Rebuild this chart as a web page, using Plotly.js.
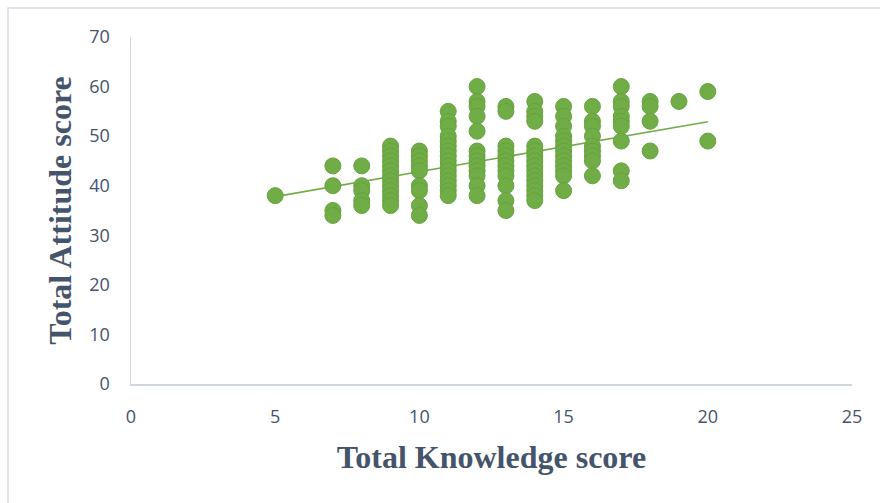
<!DOCTYPE html>
<html>
<head>
<meta charset="utf-8">
<script src="https://cdn.plot.ly/plotly-3.0.1.min.js"></script>
<style>html,body{margin:0;padding:0;background:#fff;}#chart{width:880px;height:503px;}</style>
</head>
<body>
<div id="chart"></div>
<script>
// Knowledge score -> attitude scores observed at that knowledge score
const knowledge5 = [38];
const knowledge7 = [44, 40, 35, 34];
const knowledge8 = [44, 40, 39, 37, 36];
const knowledge9 = [48, 47, 46, 45, 44, 43, 42, 41, 40, 39, 38, 37, 36];
const knowledge10 = [47, 46, 45, 44, 43, 40, 39, 36, 34];
const knowledge11 = [55, 53, 52, 50, 49, 48, 47, 46, 45, 44, 43, 42, 41, 40, 39, 38];
const knowledge12 = [60, 57, 56, 54, 51, 47, 46, 45, 44, 43, 42, 40, 38];
const knowledge13 = [56, 55, 48, 47, 46, 45, 44, 43, 42, 40, 37, 35];
const knowledge14 = [57, 55, 54, 53, 48, 47, 46, 45, 44, 43, 42, 41, 40, 39, 38, 37];
const knowledge15 = [56, 54, 52, 50, 49, 48, 47, 46, 45, 44, 43, 42, 39];
const knowledge16 = [56, 53, 52, 50, 48, 47, 46, 45, 42];
const knowledge17 = [60, 57, 56, 54, 53, 52, 49, 43, 41];
const knowledge18 = [57, 56, 53, 47];
const knowledge19 = [57];
const knowledge20 = [59, 49];

const knowledgeLevels = [5, 7, 8, 9, 10, 11, 12, 13, 14, 15, 16, 17, 18, 19, 20];
const attitudeGroups = [knowledge5, knowledge7, knowledge8, knowledge9, knowledge10, knowledge11,
  knowledge12, knowledge13, knowledge14, knowledge15, knowledge16, knowledge17, knowledge18,
  knowledge19, knowledge20];

// Linear trendline endpoints
const trendX = [5, 20];
const trendY = [37.8, 52.9];

const xTickVals = [0, 5, 10, 15, 20, 25];
const yTickVals = [0, 10, 20, 30, 40, 50, 60, 70];

const xs = [], ys = [];
knowledgeLevels.forEach((k, i) => {
  attitudeGroups[i].forEach(v => { xs.push(k); ys.push(v); });
});

const green = '#70AD47';
const textColor = '#44546A';

const M = {l: 131, r: 28, t: 37, b: 119};
const W = 880, H = 503;
const pw = W - M.l - M.r, ph = H - M.t - M.b;

const traces = [
  {
    x: trendX, y: trendY, type: 'scatter', mode: 'lines',
    line: {color: green, width: 1.6}, hoverinfo: 'skip', showlegend: false
  },
  {
    x: xs, y: ys, type: 'scatter', mode: 'markers',
    marker: {color: green, size: 16, line: {color: '#66A33F', width: 1}},
    showlegend: false
  }
];

const layout = {
  width: W, height: H,
  margin: M,
  paper_bgcolor: '#fff', plot_bgcolor: '#fff',
  showlegend: false,
  xaxis: {
    range: [0, 25], tickvals: xTickVals, showgrid: false, zeroline: false,
    showline: true, linecolor: '#D0D7E2', linewidth: 1.5,
    ticks: 'outside', ticklen: 16, tickcolor: 'rgba(0,0,0,0)',
    tickfont: {family: 'Open Sans, sans-serif', size: 18, color: textColor},
    title: {text: 'Total Knowledge score', standoff: 18,
      font: {family: 'Liberation Serif, Times New Roman, serif', size: 32, color: textColor, weight: 'bold'}}
  },
  yaxis: {
    range: [0, 70], tickvals: yTickVals, showgrid: false, zeroline: false,
    showline: true, linecolor: '#D0D7E2', linewidth: 1.5,
    ticks: 'outside', ticklen: 16, tickcolor: 'rgba(0,0,0,0)',
    tickfont: {family: 'Open Sans, sans-serif', size: 18, color: textColor},
    title: {text: 'Total Attitude score', standoff: 8,
      font: {family: 'Liberation Serif, Times New Roman, serif', size: 32, color: textColor, weight: 'bold'}}
  },
  shapes: [{
    type: 'rect', xref: 'paper', yref: 'paper', layer: 'below',
    x0: (8 - M.l) / pw, x1: 1 + (M.r + 10) / pw,
    y0: -(M.b + 10) / ph, y1: 1 + (M.t - 8) / ph,
    line: {color: '#D9DEE6', width: 1.5}
  }]
};

Plotly.newPlot('chart', traces, layout, {displayModeBar: false, staticPlot: true});
</script>
</body>
</html>
